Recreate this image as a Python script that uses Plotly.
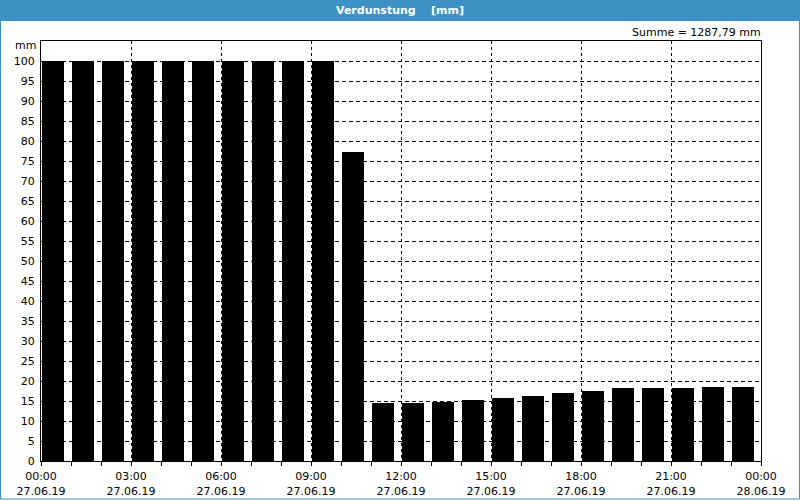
import plotly.graph_objects as go

hours = [f"2019-06-27 {h:02d}:00" for h in range(24)]
values = [100, 100, 100, 100, 100, 100, 100, 100, 100, 100, 77.25,
          14.6, 14.6, 14.8, 15.25, 15.75, 16.25, 17.0, 17.5,
          18.25, 18.25, 18.25, 18.5, 18.5]
y_ticks = list(range(0, 101, 5))
title_text = "Verdunstung\u00a0\u00a0\u00a0\u00a0[mm]"
sum_text = "Summe = 1287,79 mm"

W, H = 800, 500
L, R, T, B = 41, 39, 41, 39
pw, ph = W - L - R, H - T - B

def px(x):
    return (x - L) / pw

def py(ytop):
    return (H - B - ytop) / ph

HOUR = 3600000
fig = go.Figure(go.Bar(
    x=hours, y=values,
    marker=dict(color="#000000", line=dict(width=0)),
    width=HOUR * 22 / 30, offset=HOUR * 1 / 30,
    hoverinfo="skip",
))

font = dict(family="DejaVu Sans, Verdana, sans-serif", size=11, color="#000000")

fig.update_layout(
    width=W, height=H,
    margin=dict(l=L, r=R, t=T, b=B, pad=0, autoexpand=False),
    paper_bgcolor="#ffffff", plot_bgcolor="#ffffff",
    showlegend=False,
    font=font,
    bargap=0,
    xaxis=dict(
        type="date", automargin=False,
        range=["2019-06-27 00:00", "2019-06-28 00:00"],
        dtick=3 * HOUR, tick0="2019-06-27 00:00",
        tickformat="%H:%M<br>%d.%m.%y",
        showline=True, linecolor="#000000", linewidth=1, mirror=True,
        ticks="outside", ticklen=4, tickcolor="#000000",
        ticklabelstandoff=1,
        showgrid=True, gridcolor="#000000", gridwidth=1, griddash="3px,3px",
        minor=dict(dtick=HOUR, ticks="outside", ticklen=4, tickcolor="#000000", showgrid=False),
        tickfont=font, zeroline=False, fixedrange=True,
    ),
    yaxis=dict(
        range=[0, 105], automargin=False,
        tickvals=y_ticks, ticktext=[str(v) for v in y_ticks],
        showline=True, linecolor="#000000", linewidth=1, mirror=True,
        ticks="", ticklabelstandoff=3,
        showgrid=True, gridcolor="#000000", gridwidth=1, griddash="4px,3px",
        tickfont=font, zeroline=False, fixedrange=True,
    ),
    shapes=[
        dict(type="rect", xref="paper", yref="paper",
             x0=px(0), x1=px(W), y0=py(21), y1=py(0),
             fillcolor="#3d91c4", line=dict(width=0), layer="below"),
        dict(type="rect", xref="paper", yref="paper",
             x0=px(0.5), x1=px(W - 0.5), y0=py(H - 1), y1=py(0.5),
             fillcolor="rgba(0,0,0,0)", line=dict(color="#3d91c4", width=1)),
    ],
    annotations=[
        dict(text=f"<b>{title_text}</b>", xref="paper", yref="paper",
             x=px(400), y=py(10.5), xanchor="center", yanchor="middle",
             showarrow=False, font=dict(family=font["family"], size=11, color="#ffffff")),
        dict(text=sum_text, xref="paper", yref="paper",
             x=px(763), y=py(32), xanchor="right", yanchor="middle",
             showarrow=False, font=font),
        dict(text="mm", xref="paper", yref="paper",
             x=px(38), y=py(46), xanchor="right", yanchor="middle",
             showarrow=False, font=font),
    ],
)

fig.write_html("out.html")
